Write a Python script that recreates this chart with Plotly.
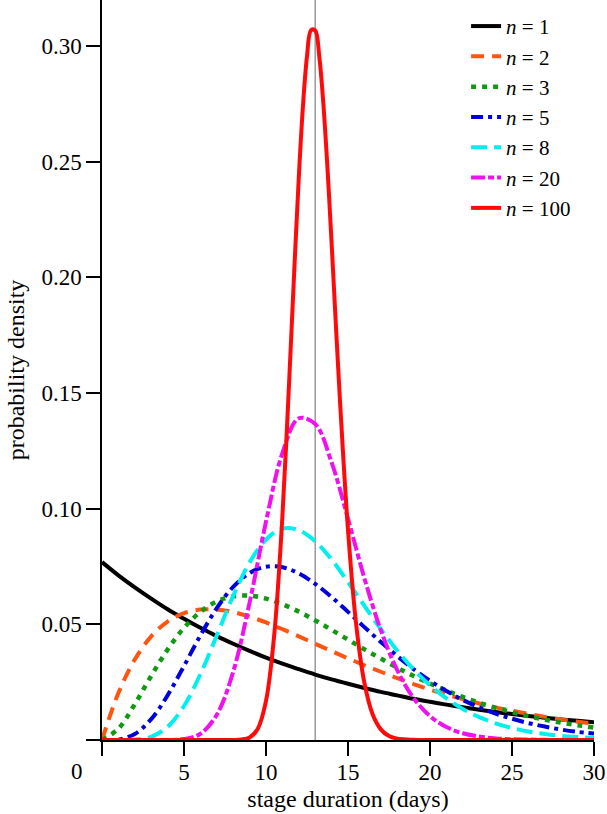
import plotly.graph_objects as go

# ---- data ----
days = list(range(0, 31))

density_n1 = [0.0769, 0.0712, 0.0660, 0.0611, 0.0565, 0.0524, 0.0485, 0.0449, 0.0416, 0.0385,
              0.0356, 0.0330, 0.0306, 0.0283, 0.0262, 0.0243, 0.0225, 0.0208, 0.0193, 0.0178,
              0.0165, 0.0153, 0.0142, 0.0131, 0.0121, 0.0112, 0.0104, 0.0096, 0.0089, 0.0083, 0.0077]
density_n2 = [0.0, 0.0203, 0.0348, 0.0448, 0.0512, 0.0548, 0.0564, 0.0564, 0.0553, 0.0533,
              0.0508, 0.0479, 0.0448, 0.0416, 0.0384, 0.0353, 0.0323, 0.0295, 0.0267, 0.0242,
              0.0218, 0.0196, 0.0177, 0.0158, 0.0141, 0.0127, 0.0113, 0.0100, 0.0089, 0.0079, 0.0070]
density_n3 = [0.0, 0.0049, 0.0155, 0.0277, 0.0391, 0.0485, 0.0554, 0.0599, 0.0621, 0.0624,
              0.0611, 0.0587, 0.0555, 0.0517, 0.0476, 0.0434, 0.0392, 0.0352, 0.0313, 0.0277,
              0.0244, 0.0213, 0.0186, 0.0161, 0.0139, 0.0120, 0.0103, 0.0088, 0.0075, 0.0064, 0.0054]
density_n5 = [0.0, 0.0002, 0.0026, 0.0090, 0.0193, 0.0320, 0.0452, 0.0570, 0.0662, 0.0722,
              0.0749, 0.0747, 0.0720, 0.0675, 0.0618, 0.0554, 0.0488, 0.0424, 0.0363, 0.0306,
              0.0256, 0.0212, 0.0173, 0.0141, 0.0114, 0.0092, 0.0073, 0.0058, 0.0045, 0.0035, 0.0028]
density_n8 = [0.0, 0.0000, 0.0002, 0.0014, 0.0057, 0.0147, 0.0285, 0.0452, 0.0623, 0.0768,
              0.0867, 0.0914, 0.0907, 0.0859, 0.0780, 0.0683, 0.0580, 0.0479, 0.0387, 0.0305,
              0.0236, 0.0180, 0.0134, 0.0099, 0.0072, 0.0052, 0.0037, 0.0026, 0.0018, 0.0013, 0.0009]
density_n20 = [0.0, 0.0, 0.0, 0.0000, 0.0000, 0.0004, 0.0027, 0.0109, 0.0295, 0.0594,
               0.0944, 0.1240, 0.1391, 0.1366, 0.1200, 0.0957, 0.0699, 0.0475, 0.0302, 0.0181,
               0.0103, 0.0056, 0.0029, 0.0015, 0.0007, 0.0003, 0.0002, 0.0001, 0.0, 0.0, 0.0]

days_n100 = [0, 7, 8, 8.5, 9, 9.5, 10, 10.5, 11, 11.5, 11.75, 12, 12.25, 12.5, 12.75, 13,
             13.25, 13.5, 13.75, 14, 14.5, 15, 15.5, 16, 16.5, 17, 17.5, 18, 19, 20, 30]
density_n100 = [0.0, 0.0, 0.0000, 0.0002, 0.0011, 0.0049, 0.0169, 0.0453, 0.0967, 0.1684,
                0.2070, 0.2432, 0.2737, 0.2956, 0.3069, 0.3067, 0.2954, 0.2748, 0.2470, 0.2149,
                0.1481, 0.0908, 0.0498, 0.0247, 0.0111, 0.0046, 0.0017, 0.0006, 0.0001, 0.0, 0.0]

mean_duration = 13

series_labels = ["<i>n</i> = 1", "<i>n</i> = 2", "<i>n</i> = 3", "<i>n</i> = 5",
                 "<i>n</i> = 8", "<i>n</i> = 20", "<i>n</i> = 100"]

x_tick_vals = [0, 5, 10, 15, 20, 25, 30]
x_tick_text = ["", "5", "10", "15", "20", "25", "30"]
y_tick_vals = [0, 0.05, 0.10, 0.15, 0.20, 0.25, 0.30]
y_tick_text = ["", "0.05", "0.10", "0.15", "0.20", "0.25", "0.30"]

# ---- styling ----
FONT = "Liberation Serif, Times New Roman, serif"
TICK_SIZE = 23
TITLE_SIZE = 24
styles = [
    dict(color="#000000", width=4, dash="solid"),
    dict(color="#FF5511", width=4, dash="13px,8px"),
    dict(color="#109A10", width=4.5, dash="5px,6px"),
    dict(color="#0000DD", width=4, dash="12px,5px,4px,5px"),
    dict(color="#00F0F0", width=4, dash="16px,7px"),
    dict(color="#F010F0", width=4, dash="14px,3px,6px,3px"),
    dict(color="#FF0A0A", width=4, dash="solid"),
]
xs = [days, days, days, days, days, days, days_n100]
ys = [density_n1, density_n2, density_n3, density_n5, density_n8, density_n20, density_n100]

fig = go.Figure()
for x, y, name, st in zip(xs, ys, series_labels, styles):
    fig.add_trace(go.Scatter(
        x=x, y=y, mode="lines", name=name,
        line=dict(color=st["color"], width=st["width"], dash=st["dash"], shape="spline", smoothing=1.0),
        cliponaxis=False,
    ))

fig.add_shape(type="line", xref="x", yref="paper", x0=mean_duration, x1=mean_duration, y0=0, y1=1,
              line=dict(color="#999999", width=1.5), layer="below")

fig.add_annotation(x=0, y=0, xref="x", yref="paper", text="0", showarrow=False,
                   xshift=-25, yshift=-17, yanchor="top",
                   font=dict(family=FONT, size=TICK_SIZE, color="black"))

fig.update_layout(
    width=607, height=814,
    margin=dict(l=102, r=13, t=0, b=74),
    paper_bgcolor="white", plot_bgcolor="white",
    font=dict(family=FONT, size=TICK_SIZE, color="black"),
    showlegend=True,
    legend=dict(x=0.74, y=0.992, xanchor="left", yanchor="top",
                bgcolor="rgba(0,0,0,0)", font=dict(family=FONT, size=21, color="black"),
                itemwidth=30),
    xaxis=dict(range=[0, 30], showline=True, linecolor="black", linewidth=1.5,
               ticks="outside", ticklen=14, tickwidth=1.5, tickcolor="black",
               ticklabelstandoff=-3,
               tickvals=x_tick_vals, ticktext=x_tick_text, showgrid=False, zeroline=False,
               tickfont=dict(family=FONT, size=TICK_SIZE),
               title=dict(text="stage duration (days)", font=dict(family=FONT, size=TITLE_SIZE), standoff=6)),
    yaxis=dict(range=[0, 0.3199], showline=True, linecolor="black", linewidth=1.5,
               ticks="outside", ticklen=14, tickwidth=1.5, tickcolor="black",
               tickvals=y_tick_vals, ticktext=y_tick_text, showgrid=False, zeroline=False,
               tickfont=dict(family=FONT, size=TICK_SIZE),
               title=dict(text="probability density", font=dict(family=FONT, size=TITLE_SIZE), standoff=10)),
)

fig.write_html("out.html", config={"displayModeBar": False},
               post_script="document.body.style.margin='0px';")
